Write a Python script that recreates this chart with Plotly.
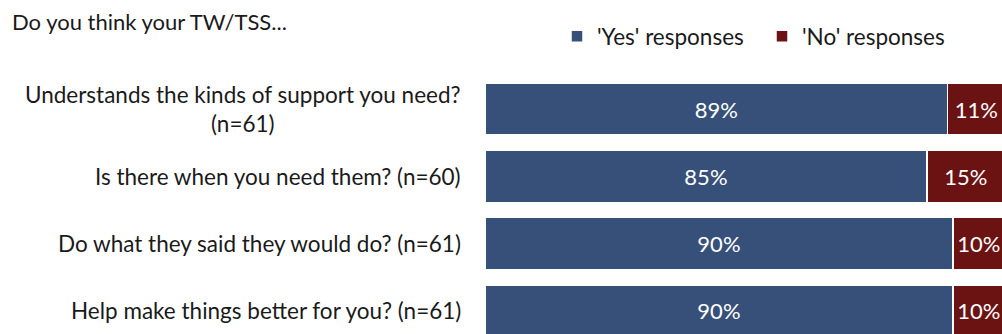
import plotly.graph_objects as go

questions = [
    "Understands the kinds of support you need?<br>(n=61)",
    "Is there when you need them? (n=60)",
    "Do what they said they would do? (n=61)",
    "Help make things better for you? (n=61)",
]
yes_pct = [89, 85, 90, 90]
no_pct = [11, 15, 10, 10]

YES_COLOR = "#375079"
NO_COLOR = "#6B1212"
FONT = "Lato"
SIZE = 22.5

W, H = 1002, 334
L, T = 485, 75

pos = list(range(len(questions)))

fig = go.Figure()
fig.add_trace(go.Bar(
    y=pos, x=yes_pct, orientation="h", name="'Yes' responses",
    marker=dict(color=YES_COLOR, line=dict(color="white", width=1.5)),
    width=0.772,
    text=[f"{v}%" for v in yes_pct], textposition="inside",
    insidetextanchor="middle", textangle=0,
    textfont=dict(color="white", size=SIZE - 0.5, family=FONT),
))
fig.add_trace(go.Bar(
    y=pos, x=no_pct, orientation="h", name="'No' responses",
    marker=dict(color=NO_COLOR, line=dict(color="white", width=1.5)),
    width=0.772,
    text=[f"{v}%" for v in no_pct], textposition="inside",
    insidetextanchor="middle", textangle=0,
    textfont=dict(color="white", size=SIZE - 0.5, family=FONT),
))

# Question labels, right-aligned against the bars, centred line by line
for i, q in enumerate(questions):
    fig.add_annotation(
        x=0, xref="paper", xanchor="right", xshift=-22,
        y=i, yref="y", yanchor="middle",
        text=q, showarrow=False, align="center",
        font=dict(size=SIZE, color="#1a1a1a", family=FONT),
    )

# Heading in the top-left corner
pw, ph = W - L, H - T
fig.add_annotation(
    x=(10 - L) / pw, xref="paper", y=(H - 22) / ph, yref="paper",
    xanchor="left", yanchor="middle",
    text="Do you think your TW/TSS...", showarrow=False,
    font=dict(size=22, color="#1a1a1a", family=FONT),
)

fig.update_layout(
    width=W, height=H,
    margin=dict(l=L, r=0, t=T, b=0),
    barmode="stack",
    plot_bgcolor="white", paper_bgcolor="white",
    showlegend=True,
    legend=dict(
        orientation="h", x=557 / W, xref="container", y=0.89, yref="container",
        xanchor="left", yanchor="middle",
        font=dict(size=SIZE, color="#1a1a1a", family=FONT),
        itemwidth=30, traceorder="normal", entrywidth=160,
    ),
    xaxis=dict(range=[0, 99.45], visible=False, fixedrange=True),
    yaxis=dict(range=[3.342, -0.505], visible=False, fixedrange=True),
)

fig.write_html("out.html")
